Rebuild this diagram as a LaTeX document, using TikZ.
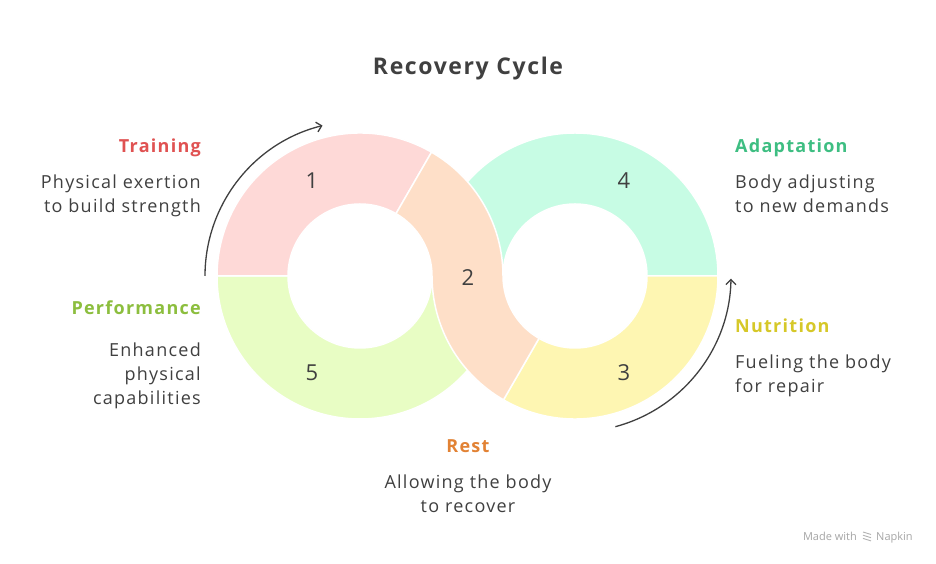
\documentclass[tikz,border=0pt]{standalone}
\usepackage{fontspec}
\setmainfont{Open Sans}[LetterSpace=7]
\newfontfamily\wmfont{Open Sans}
\usetikzlibrary{calc,arrows.meta}
\definecolor{segpink}{RGB}{254,217,215}
\definecolor{segpeach}{RGB}{254,223,200}
\definecolor{segyellow}{RGB}{254,246,178}
\definecolor{segteal}{RGB}{199,252,228}
\definecolor{seggreen}{RGB}{232,253,196}
\definecolor{txtdark}{RGB}{64,64,64}
\definecolor{hred}{RGB}{224,82,82}
\definecolor{hgreen}{RGB}{62,190,130}
\definecolor{hlime}{RGB}{140,190,62}
\definecolor{hyellow}{RGB}{214,200,40}
\definecolor{horange}{RGB}{226,130,52}
\newcommand{\ringseg}[4]{%
  \path[segstyle,fill=#4] ($(#1)+(#2:143pt)$) arc[start angle=#2,end angle=#3,radius=143pt]
    -- ($(#1)+(#3:72pt)$) arc[start angle=#3,end angle=#2,radius=72pt] -- cycle;}
\begin{document}
\begin{tikzpicture}[x=1pt,y=1pt,
  segstyle/.style={draw=white,line width=1.5pt,line join=round},
  numlabel/.style={text=txtdark,font=\fontsize{22}{26}\selectfont,inner sep=0pt},
  headl/.style={font=\fontsize{18}{24}\selectfont\bfseries,inner sep=0pt},
  bodyl/.style={text=txtdark,font=\fontsize{18}{24}\selectfont,inner sep=0pt},
  cyclearrow/.style={draw=txtdark,line width=1.3pt,-{Straight Barb[length=5pt,width=10pt]}}]
\useasboundingbox[fill=white] (0,0) rectangle (936,564);
\coordinate (L) at (360,288);
\coordinate (R) at (575,288);
% segments
\ringseg{L}{180}{360}{seggreen}
\ringseg{R}{0}{180}{segteal}
\ringseg{L}{60}{180}{segpink}
\ringseg{R}{240}{360}{segyellow}
\path[segstyle,fill=segpeach] ($(L)+(60:143pt)$) arc[start angle=60,end angle=0,radius=143pt]
  arc[start angle=180,end angle=240,radius=72pt]
  -- ($(R)+(240:143pt)$) arc[start angle=240,end angle=180,radius=143pt]
  arc[start angle=0,end angle=60,radius=72pt] -- cycle;
% numbers
\node[numlabel] (n1) at (312,383) {1};
\node[numlabel] (n2) at (468,286) {2};
\node[numlabel] (n3) at (624,191) {3};
\node[numlabel] (n4) at (624,383) {4};
\node[numlabel] (n5) at (312,191) {5};
% arrows
\coordinate (a1s) at ($(L)+(180:155pt)$);
\coordinate (a2s) at ($(R)+(-75:156pt)$);
\draw[cyclearrow] (a1s) arc[start angle=180,end angle=104,radius=155pt];
\draw[cyclearrow] (a2s) arc[start angle=-75,end angle=-1,radius=156pt];
% title
\node[text=txtdark,font=\fontsize{23}{28}\selectfont\bfseries,anchor=base,inner sep=0pt] (title) at (468,489) {Recovery Cycle};
% left column
\node[headl,text=hred,anchor=base east] (h1) at (201,411) {Training};
\node[bodyl,anchor=base east,align=right] (b1) at (201,351) {Physical exertion\\to build strength};
\node[headl,text=hlime,anchor=base east] (h5) at (201,249) {Performance};
\node[bodyl,anchor=base east,align=right] (b5) at (201,159) {Enhanced\\physical\\capabilities};
% right column
\node[headl,text=hgreen,anchor=base west] (h4) at (735,411) {Adaptation};
\node[bodyl,anchor=base west,align=left] (b4) at (735,351) {Body adjusting\\to new demands};
\node[headl,text=hyellow,anchor=base west] (h3) at (735,231) {Nutrition};
\node[bodyl,anchor=base west,align=left] (b3) at (735,171) {Fueling the body\\for repair};
% bottom
\node[headl,text=horange,anchor=base] (h2) at (468,111) {Rest};
\node[bodyl,anchor=base,align=center] (b2) at (468,51) {Allowing the body\\to recover};
% watermark
\node[text=gray!70,font=\wmfont\fontsize{11}{13}\selectfont,anchor=base east,inner sep=0pt] (mw) at (857,23) {Made with};
\node[text=gray!70,font=\wmfont\fontsize{11}{13}\selectfont,anchor=base west,inner sep=0pt] (nap) at (876,23) {Napkin};
\foreach \k in {0,1,2}{\draw[gray!60,line width=0.9pt] (863,{32-3.2*\k}) -- (871,{29.5-3.2*\k});}
\end{tikzpicture}
\end{document}
